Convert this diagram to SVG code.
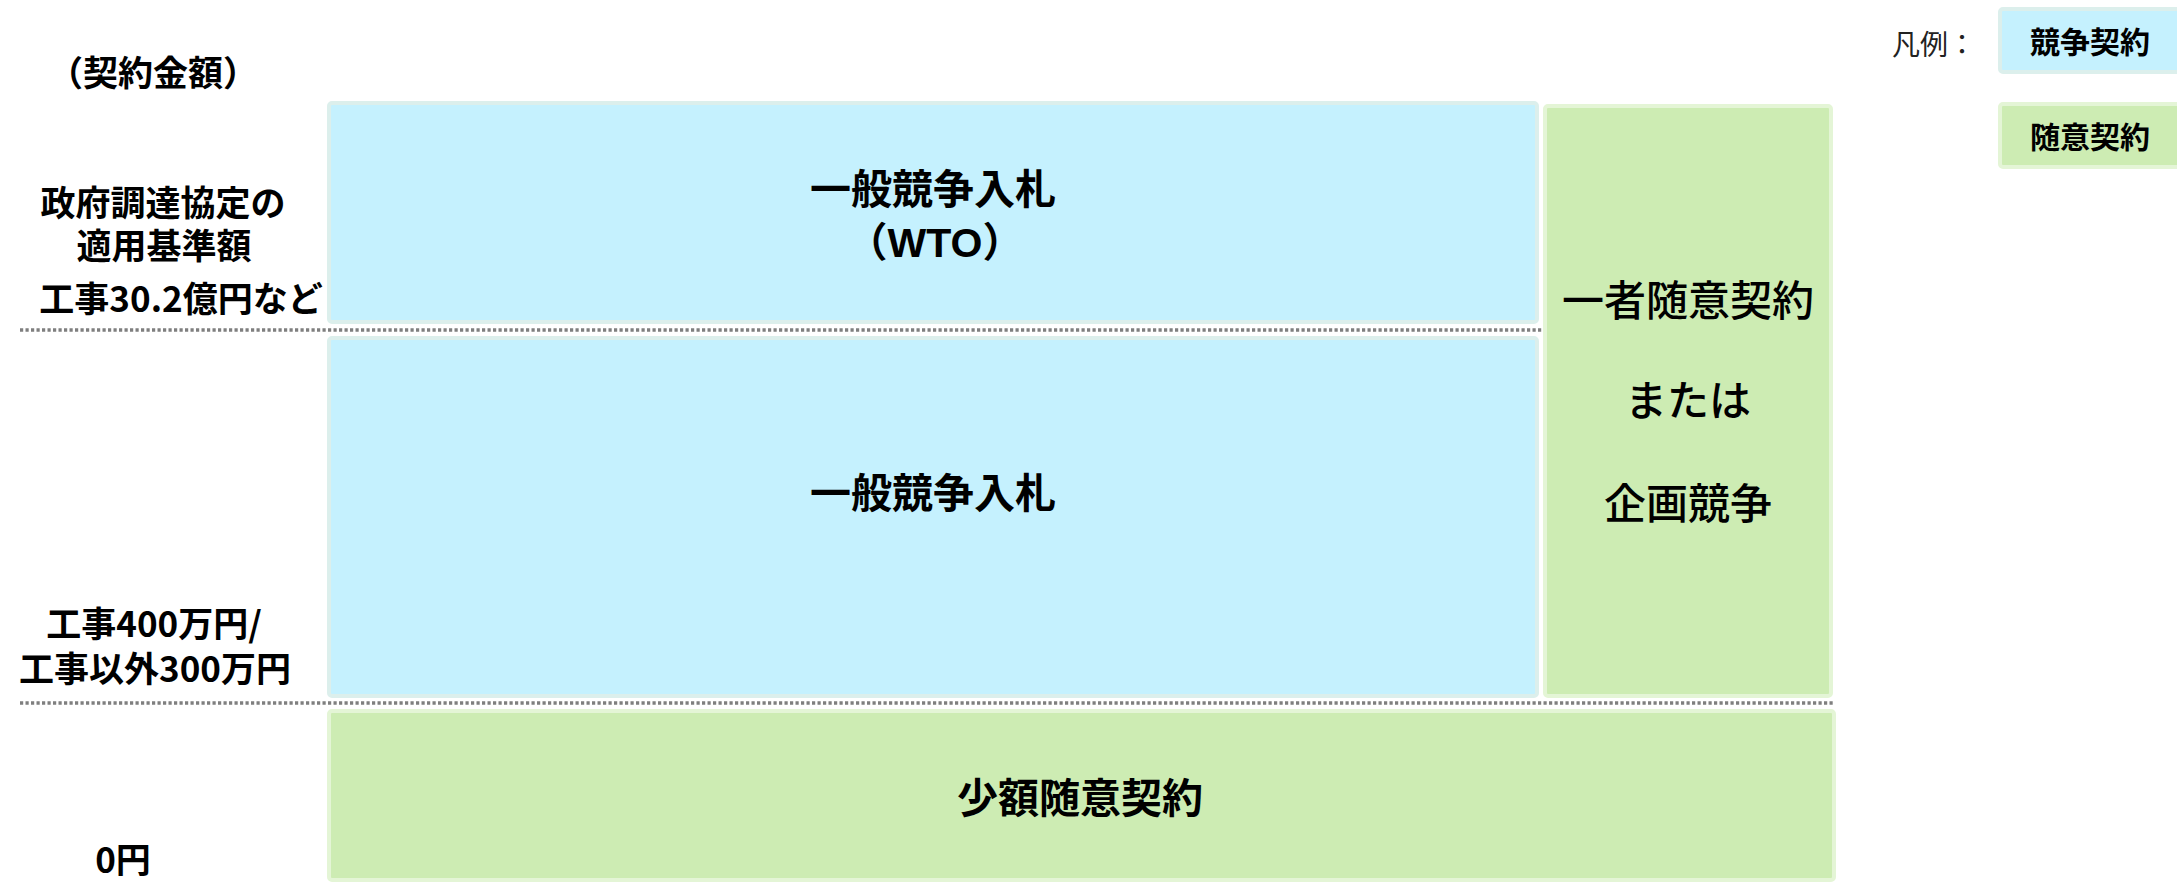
<svg xmlns="http://www.w3.org/2000/svg" width="2177" height="882" viewBox="0 0 2177 882">
<style>
.blue{fill:#C5F1FE;stroke:#DCEFEC;stroke-width:4}
.green{fill:#CDECB3;stroke:#E4F5D6;stroke-width:4}
.dash{stroke:#7F7F7F;stroke-width:3.5;stroke-dasharray:3.2 2.3;fill:none}
text{font-family:"Noto Sans CJK JP","Noto Sans",sans-serif;fill:#000}
.lb{font-weight:bold;font-size:35px;text-anchor:middle}
.cb{font-weight:bold;font-size:41px;text-anchor:middle}
.cr{font-weight:500;font-size:42px;text-anchor:middle}
.lg{font-weight:bold;font-size:30px;text-anchor:middle}
.lat{font-family:"Liberation Sans","Noto Sans CJK JP",sans-serif}
</style>
<rect width="2177" height="882" fill="#fff"/>
<g id="connectors">
<line class="dash" x1="20" y1="330" x2="1543" y2="330"/>
<line class="dash" x1="20" y1="703" x2="1834" y2="703"/>
</g>
<g id="axis-labels">
<text class="lb" x="153" y="86" font-size="34">（契約金額）</text>
<text class="lb" x="163" y="216">政府調達協定の</text>
<text class="lb" x="164" y="259">適用基準額</text>
<text class="lb" x="181" y="312">工事30.2億円など</text>
<text class="lb" x="154" y="637">工事400万円/</text>
<text class="lb" x="155" y="682">工事以外300万円</text>
<text class="lb" x="123" y="873">0円</text>
</g>
<g id="node-wto">
<rect class="blue" x="329" y="103" width="1208" height="219" rx="3"/>
<text class="cb" x="933" y="204">一般競争入札</text>
<text class="cb" x="935" y="257">（<tspan class="lat">WTO</tspan>）</text>
</g>
<g id="node-general">
<rect class="blue" x="329" y="338" width="1208" height="358" rx="3"/>
<text class="cb" x="933" y="508">一般競争入札</text>
</g>
<g id="node-single">
<rect class="green" x="1545" y="106" width="286" height="590" rx="3"/>
<text class="cr" x="1688" y="316">一者随意契約</text>
<text class="cr" x="1688" y="416">または</text>
<text class="cr" x="1688" y="519">企画競争</text>
</g>
<g id="node-small">
<rect class="green" x="329" y="711" width="1505" height="169" rx="3"/>
<text class="cb" x="1080" y="813">少額随意契約</text>
</g>
<g id="legend">
<text x="1892" y="55" font-size="28" style="fill:#222">凡例：</text>
<rect class="blue" x="2000" y="9" width="190" height="63" rx="3"/>
<text class="lg" x="2090" y="53">競争契約</text>
<rect class="green" x="2000" y="104" width="190" height="63" rx="3"/>
<text class="lg" x="2090" y="148">随意契約</text>
</g>
</svg>
